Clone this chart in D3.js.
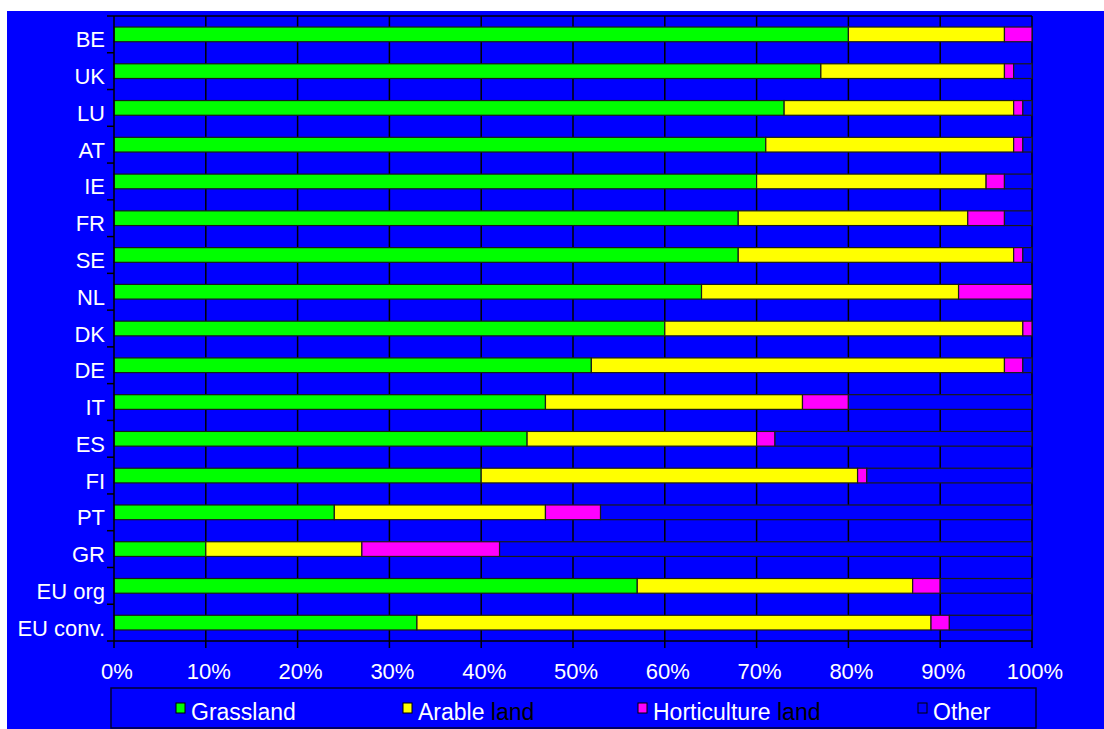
<!DOCTYPE html>
<html>
<head>
<meta charset="utf-8">
<script src="https://cdn.jsdelivr.net/npm/d3@7"></script>
<style>
  body { margin: 0; background: #fff; }
  svg { display: block; font-family: Arial, "Liberation Sans", sans-serif; }
</style>
</head>
<body>
<div id="chart"></div>
<script>
// categories, top to bottom
var countries = ["BE","UK","LU","AT","IE","FR","SE","NL","DK","DE","IT","ES","FI","PT","GR","EU org","EU conv."];

// shares in %
var grassland   = [80,77,73,71,70,68,68,64,60,52,47,45,40,24,10,57,33];
var arable      = [17,20,25,27,25,25,30,28,39,45,28,25,41,23,17,30,56];
var horticulture= [ 3, 1, 1, 1, 2, 4, 1, 8, 1, 2, 5, 2, 1, 6,15, 3, 2];
var other       = [ 0, 2, 1, 1, 3, 3, 1, 0, 0, 1,20,28,18,47,58,10, 9];

var seriesNames = ["Grassland","Arable land","Horticulture land","Other"];
var seriesColors = ["#00ff00","#ffff00","#ff00ff","#0000ff"];
var xTicks = [0,10,20,30,40,50,60,70,80,90,100];

var W = 1104, H = 729;
var plotL = 114, plotR = 1032, plotT = 16, plotB = 641;
var bg = "#0000ff";

var svg = d3.select("#chart").append("svg")
  .attr("width", W).attr("height", H);

svg.append("rect").attr("x", 7).attr("y", 11)
  .attr("width", W - 7).attr("height", H - 11).attr("fill", bg);

var x = d3.scaleLinear().domain([0, 100]).range([plotL, plotR]);
var y = d3.scaleBand().domain(countries).range([plotT, plotB])
  .paddingInner(0.6).paddingOuter(0.3);

// gridlines
svg.append("g").selectAll("line").data(xTicks.slice(1)).join("line")
  .attr("x1", d => x(d)).attr("x2", d => x(d))
  .attr("y1", plotT).attr("y2", plotB)
  .attr("stroke", "#000").attr("stroke-width", 1.5);
svg.append("line").attr("x1", plotL).attr("x2", plotR)
  .attr("y1", plotT).attr("y2", plotT).attr("stroke", "#000").attr("stroke-width", 1.5);

// stacked bars
var rows = countries.map(function(c, i){
  return {country: c, Grassland: grassland[i], "Arable land": arable[i],
          "Horticulture land": horticulture[i], Other: other[i]};
});
var stack = d3.stack().keys(seriesNames)(rows);

svg.append("g").selectAll("g").data(stack).join("g")
  .attr("fill", (d, i) => seriesColors[i])
  .selectAll("rect").data(d => d.filter(s => s[1] - s[0] > 0)).join("rect")
    .attr("x", d => x(d[0]))
    .attr("width", d => x(d[1]) - x(d[0]))
    .attr("y", d => y(d.data.country))
    .attr("height", y.bandwidth())
    .attr("stroke", "#1a1a1a").attr("stroke-width", 1.2);

// y axis
var step = y.step();
var bounds = d3.range(countries.length + 1).map(i => plotT + i * step);
svg.append("line").attr("x1", plotL).attr("x2", plotL)
  .attr("y1", plotT).attr("y2", plotB).attr("stroke", "#000").attr("stroke-width", 1.5);
svg.append("g").selectAll("line").data(bounds).join("line")
  .attr("x1", plotL - 7).attr("x2", plotL).attr("y1", d => d).attr("y2", d => d)
  .attr("stroke", "#000").attr("stroke-width", 1.5);
svg.append("g").selectAll("text").data(countries).join("text")
  .attr("x", 105)
  .attr("y", d => y(d) + y.bandwidth() / 2 + 13)
  .attr("text-anchor", "end")
  .attr("fill", "#fff").attr("font-size", 22)
  .text(d => d);

// x axis
svg.append("line").attr("x1", plotL).attr("x2", plotR)
  .attr("y1", plotB).attr("y2", plotB).attr("stroke", "#000").attr("stroke-width", 1.5);
svg.append("g").selectAll("line").data(xTicks).join("line")
  .attr("x1", d => x(d)).attr("x2", d => x(d))
  .attr("y1", plotB).attr("y2", plotB + 7)
  .attr("stroke", "#000").attr("stroke-width", 1.5);
svg.append("g").selectAll("text").data(xTicks).join("text")
  .attr("x", d => x(d) + 3).attr("y", 679)
  .attr("text-anchor", "middle")
  .attr("fill", "#fff").attr("font-size", 22)
  .text(d => d + "%");

// legend
svg.append("rect").attr("x", 111).attr("y", 688)
  .attr("width", 925).attr("height", 40)
  .attr("fill", "none").attr("stroke", "#000033").attr("stroke-width", 1.5);

var legendX = [176, 403, 638, 918];
var lg = svg.append("g").selectAll("g").data(seriesNames).join("g")
  .attr("transform", (d, i) => "translate(" + legendX[i] + ",0)");
lg.append("rect").attr("x", 0).attr("y", 703).attr("width", 9).attr("height", 10)
  .attr("fill", (d, i) => seriesColors[i]).attr("stroke", "#000").attr("stroke-width", 1);
var lt = lg.append("text").attr("x", 15).attr("y", 720)
  .attr("font-size", 23).attr("fill", "#fff");
lt.append("tspan").text(d => d.split(" ")[0]);
lt.append("tspan").attr("fill", "#000")
  .text(d => d.indexOf(" ") > 0 ? " " + d.split(" ").slice(1).join(" ") : "");
</script>
</body>
</html>
